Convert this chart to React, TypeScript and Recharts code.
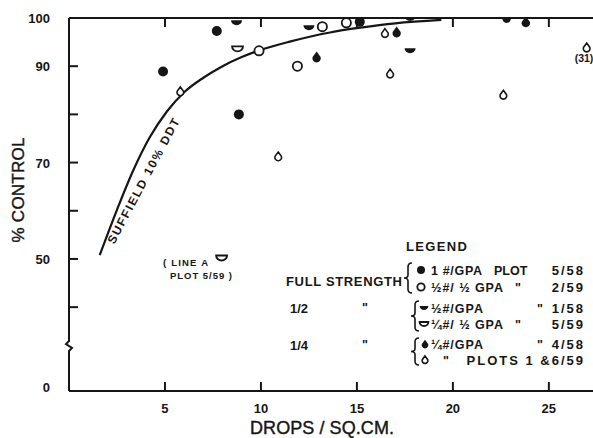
import React from "react";
import { ComposedChart, Line, Scatter, XAxis, YAxis } from "recharts";

const INK = "#161616";
const FONT = "'Liberation Sans', Arial, sans-serif";

// axis setup (y axis is broken below 40, the bottom edge reads "0")
const X_MAX = 27.3;
const Y_FLOOR = 22.6;
const xTicks = [5, 10, 15, 20, 25];
const yTicks = [Y_FLOOR, 40, 50, 60, 70, 80, 90, 100];
const yTickLabels: Record<string, string> = { "100": "100", "90": "90", "70": "70", "50": "50" };

// Suffield 10% DDT reference curve
const suffieldCurve = [
  { x: 1.6, y: 50.8 },
  { x: 2.5, y: 60.2 },
  { x: 3.35, y: 68.4 },
  { x: 4.2, y: 75.2 },
  { x: 5.1, y: 80.6 },
  { x: 6.0, y: 84.6 },
  { x: 7.0, y: 87.6 },
  { x: 8.0, y: 90.0 },
  { x: 9.0, y: 91.9 },
  { x: 10.0, y: 93.4 },
  { x: 11.5, y: 95.1 },
  { x: 13.6, y: 97.0 },
  { x: 15.2, y: 98.0 },
  { x: 17, y: 98.9 },
  { x: 19.4, y: 99.6 },
];

// full strength
const full1GpaPlot558 = [
  { x: 4.9, y: 88.9 },
  { x: 7.7, y: 97.3 },
  { x: 8.85, y: 80.0 },
  { x: 15.15, y: 99.2 },
];
const fullHalfGpa259 = [
  { x: 9.9, y: 93.2 },
  { x: 11.9, y: 90.0 },
  { x: 13.2, y: 98.2 },
  { x: 14.45, y: 99.0 },
];
// 1/2 strength
const halfGpa158 = [
  { x: 8.73, y: 99.0 },
  { x: 12.5, y: 98.0 },
  { x: 17.77, y: 93.2 },
  { x: 17.77, y: 99.9 },
];
const halfHalfGpa559 = [
  { x: 8.78, y: 93.6 },
  { x: 7.95, y: 50.2 },
];
// 1/4 strength
const quarterGpa458 = [
  { x: 12.9, y: 91.8 },
  { x: 17.07, y: 97.0 },
  { x: 22.8, y: 100 },
  { x: 23.8, y: 99.1 },
];
const quarterPlots16_59 = [
  { x: 5.8, y: 84.7 },
  { x: 10.9, y: 71.2 },
  { x: 16.46, y: 96.8 },
  { x: 16.73, y: 88.4 },
  { x: 22.63, y: 84.0 },
  { x: 26.97, y: 93.8 },
];

type P = { cx?: number; cy?: number; s?: number };

const FilledCircle = ({ cx = 0, cy = 0, s = 1 }: P) => <circle cx={cx} cy={cy} r={5 * s} fill={INK} />;
const OpenCircle = ({ cx = 0, cy = 0, s = 1 }: P) => (
  <circle cx={cx} cy={cy} r={4.6 * s} fill="#fff" stroke={INK} strokeWidth={1.8} />
);
const halfPath = (cx: number, cy: number, s: number) =>
  `M${cx - 5.5 * s},${cy - 2.5 * s} L${cx + 5.5 * s},${cy - 2.5 * s} A${5.5 * s},${5 * s} 0 0 1 ${cx - 5.5 * s},${cy - 2.5 * s} Z`;
const HalfFilled = ({ cx = 0, cy = 0, s = 1 }: P) => <path d={halfPath(cx, cy, s)} fill={INK} />;
const HalfOpen = ({ cx = 0, cy = 0, s = 1 }: P) => (
  <path d={halfPath(cx, cy, s)} fill="#fff" stroke={INK} strokeWidth={1.8} />
);
const dropPath = (cx: number, cy: number, s: number) =>
  `M${cx},${cy - 6 * s} L${cx + 4 * s},${cy - 0.5 * s} A${4.2 * s},${4.2 * s} 0 1 1 ${cx - 4 * s},${cy - 0.5 * s} Z`;
const DropFilled = ({ cx = 0, cy = 0, s = 1 }: P) => <path d={dropPath(cx, cy, s)} fill={INK} />;
const DropOpen = ({ cx = 0, cy = 0, s = 1 }: P) => (
  <path d={dropPath(cx, cy, 0.8 * s)} fill="#fff" stroke={INK} strokeWidth={1.6} />
);

const BottomTick = (props: any) => {
  const { x, y, payload } = props;
  return (
    <g>
      <line x1={x} y1={y} x2={x} y2={y - 9} stroke={INK} strokeWidth={2} />
      <text x={x} y={y + 22} textAnchor="middle" fontSize={13} fontWeight="bold" fontFamily={FONT} fill={INK}>
        {payload.value}
      </text>
    </g>
  );
};

const TopTick = (props: any) => {
  const { x, y } = props;
  return <line x1={x} y1={y} x2={x} y2={y + 9} stroke={INK} strokeWidth={2} />;
};

const LeftTick = (props: any) => {
  const { x, y, payload } = props;
  const v = payload.value;
  const isFloor = v === Y_FLOOR;
  const label = isFloor ? "0" : yTickLabels[String(v)] ?? "";
  return (
    <g>
      {!isFloor && v !== 100 && <line x1={x} y1={y} x2={x + 9} y2={y} stroke={INK} strokeWidth={2} />}
      <text
        x={x - 19}
        y={isFloor ? y + 1 : y + 5}
        textAnchor="end"
        fontSize={13}
        fontWeight="bold"
        fontFamily={FONT}
        fill={INK}
      >
        {label}
      </text>
    </g>
  );
};

const brace = (x: number, y0: number, y1: number) => {
  const m = (y0 + y1) / 2;
  return `M${x + 4},${y0} Q${x},${y0} ${x},${y0 + 4} L${x},${m - 3} Q${x},${m} ${x - 4},${m} Q${x},${m} ${x},${m + 3} L${x},${y1 - 4} Q${x},${y1} ${x + 4},${y1}`;
};

const T = (p: any) => (
  <text fontFamily={FONT} fontWeight="bold" fontSize={12.5} fill={INK} lengthAdjust="spacing" {...p} />
);

const legendRows = [
  { y: 270, sym: FilledCircle, sx: 421, label: "1 #/GPA", w: 51, mid: "PLOT", midX: 494, plot: "5/58" },
  { y: 287, sym: OpenCircle, sx: 421, label: "½#/ ½ GPA", w: 72, mid: "\"", midX: 515, plot: "2/59" },
  { y: 308, sym: HalfFilled, sx: 424, label: "½#/GPA", w: 52, mid: "\"", midX: 537, plot: "1/58" },
  { y: 324, sym: HalfOpen, sx: 424, label: "¼#/ ½ GPA", w: 72, mid: "\"", midX: 515, plot: "5/59" },
  { y: 344.5, sym: DropFilled, sx: 425, label: "¼#/GPA", w: 52, mid: "\"", midX: 537, plot: "4/58" },
];

export default function App() {
  return (
    <div style={{ position: "absolute", left: 0, top: 0, width: 593, height: 438, background: "#fff" }}>
      <ComposedChart width={593} height={438} margin={{ top: 17, right: 0, bottom: 17, left: 0 }}>
        <XAxis
          xAxisId="b"
          type="number"
          dataKey="x"
          domain={[0, X_MAX]}
          ticks={xTicks}
          orientation="bottom"
          height={30}
          tickSize={0}
          tickMargin={0}
          tickLine={false}
          tick={<BottomTick />}
          axisLine={{ stroke: INK, strokeWidth: 2 }}
          allowDataOverflow
        />
        <XAxis
          xAxisId="t"
          type="number"
          dataKey="x"
          domain={[0, X_MAX]}
          ticks={xTicks}
          orientation="top"
          height={1}
          tickSize={0}
          tickMargin={0}
          tickLine={false}
          tick={<TopTick />}
          axisLine={{ stroke: INK, strokeWidth: 2 }}
          allowDataOverflow
        />
        <YAxis
          type="number"
          dataKey="y"
          domain={[Y_FLOOR, 100]}
          ticks={yTicks}
          width={69}
          tickSize={0}
          tickMargin={0}
          tickLine={false}
          tick={<LeftTick />}
          axisLine={{ stroke: INK, strokeWidth: 2 }}
          allowDataOverflow
        />
        <Line
          xAxisId="b"
          data={suffieldCurve}
          dataKey="y"
          type="monotone"
          dot={false}
          stroke={INK}
          strokeWidth={2.2}
          isAnimationActive={false}
        />
        <Scatter xAxisId="b" data={full1GpaPlot558} dataKey="y" shape={(p: any) => <FilledCircle cx={p.cx} cy={p.cy} />} isAnimationActive={false} />
        <Scatter xAxisId="b" data={fullHalfGpa259} dataKey="y" shape={(p: any) => <OpenCircle cx={p.cx} cy={p.cy} />} isAnimationActive={false} />
        <Scatter xAxisId="b" data={halfGpa158} dataKey="y" shape={(p: any) => <HalfFilled cx={p.cx} cy={p.cy} />} isAnimationActive={false} />
        <Scatter xAxisId="b" data={halfHalfGpa559} dataKey="y" shape={(p: any) => <HalfOpen cx={p.cx} cy={p.cy} />} isAnimationActive={false} />
        <Scatter xAxisId="b" data={quarterGpa458} dataKey="y" shape={(p: any) => <DropFilled cx={p.cx} cy={p.cy} />} isAnimationActive={false} />
        <Scatter xAxisId="b" data={quarterPlots16_59} dataKey="y" shape={(p: any) => <DropOpen cx={p.cx} cy={p.cy} />} isAnimationActive={false} />
      </ComposedChart>

      <svg width={593} height={438} style={{ position: "absolute", left: 0, top: 0, pointerEvents: "none" }}>
        {/* axis break */}
        <rect x={63} y={338} width={12} height={14} fill="#fff" />
        <path d="M69,337 L69,341 L66,344 L72,348 L69,351 L69,353" fill="none" stroke={INK} strokeWidth={2} />

        {/* axis titles */}
        <text
          transform="translate(24,190) rotate(-90)"
          textAnchor="middle"
          fontFamily={FONT}
          fontSize={17}
          fill={INK}
          stroke={INK}
          strokeWidth={0.4}
          textLength={105}
          lengthAdjust="spacing"
        >
          % CONTROL
        </text>
        <text
          x={322}
          y={434}
          textAnchor="middle"
          fontFamily={FONT}
          fontSize={18}
          fill={INK}
          stroke={INK}
          strokeWidth={0.4}
          textLength={144}
          lengthAdjust="spacing"
        >
          DROPS / SQ.CM.
        </text>

        {/* curve label */}
        <T transform="translate(147,183) rotate(-62)" textAnchor="middle" fontSize={12} textLength={140}>
          SUFFIELD 10% DDT
        </T>

        {/* annotations */}
        <T x={163} y={266} fontSize={9.5} textLength={45}>( LINE A</T>
        <T x={170} y={279} fontSize={9.5} textLength={62}>PLOT 5/59 )</T>
        <T x={584} y={62} textAnchor="middle" fontSize={10.5}>(31)</T>

        {/* legend */}
        <T x={406} y={251} fontSize={13} textLength={61}>LEGEND</T>
        <T x={286} y={286} fontSize={13} textLength={116}>FULL STRENGTH</T>
        <T x={290} y={313} fontSize={13}>1/2</T>
        <T x={362} y={312}>"</T>
        <T x={290} y={350} fontSize={13}>1/4</T>
        <T x={362} y={349}>"</T>

        <path d={brace(408, 263, 293)} fill="none" stroke={INK} strokeWidth={1.6} />
        <path d={brace(415, 301, 331)} fill="none" stroke={INK} strokeWidth={1.6} />
        <path d={brace(415, 338, 365)} fill="none" stroke={INK} strokeWidth={1.6} />

        {legendRows.map((r) => {
          const Sym = r.sym;
          return (
            <g key={r.plot}>
              <Sym cx={r.sx} cy={r.y} s={0.8} />
              <T x={431} y={r.y + 4.5} textLength={r.w}>{r.label}</T>
              <T x={r.midX} y={r.y + 4.5}>{r.mid}</T>
              <T x={585} y={r.y + 4.5} textAnchor="end" fontSize={13} letterSpacing={2}>{r.plot}</T>
            </g>
          );
        })}
        <DropOpen cx={425} cy={360} s={0.85} />
        <T x={443} y={364.5}>"</T>
        <T x={585} y={364.5} textAnchor="end" fontSize={13} letterSpacing={2}>PLOTS 1 &amp;6/59</T>
      </svg>
    </div>
  );
}
